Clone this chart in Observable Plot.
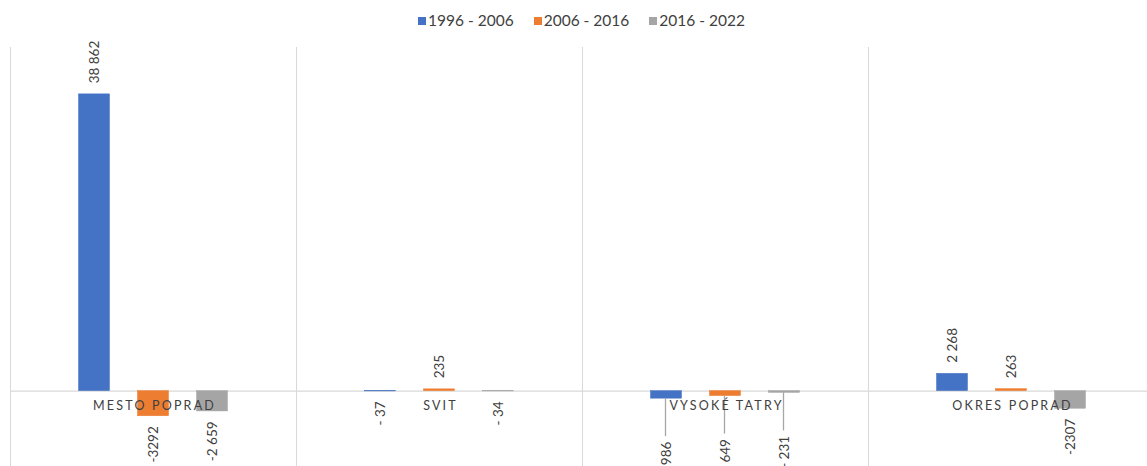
<!DOCTYPE html>
<html>
<head>
<meta charset="utf-8">
<script src="https://cdn.jsdelivr.net/npm/d3@7"></script>
<script src="https://cdn.jsdelivr.net/npm/@observablehq/plot@0.6"></script>
<style>
  html, body { margin: 0; padding: 0; background: #fff; overflow: hidden; width: 1147px; height: 466px; }
  #legend { height: 40px; display: flex; justify-content: center; align-items: center; font-family: Lato, "Open Sans", sans-serif; font-size: 15.5px; color: #404040; padding-left: 16px; box-sizing: border-box; }
  #legend .item { display: flex; align-items: center; margin: 0 10px; }
  #legend .sw { width: 8px; height: 8px; margin-right: 2px; margin-top: 1px; }
  #chart svg { display: block; max-width: none !important; }
</style>
</head>
<body>
<div id="legend"></div>
<div id="chart"></div>
<script>
const categories = ["MESTO POPRAD", "SVIT", "VYSOKÉ TATRY", "OKRES POPRAD"];
const series = ["1996 - 2006", "2006 - 2016", "2016 - 2022"];
const values1 = [38862, -37, -986, 2268];
const values2 = [-3292, 235, -649, 263];
const values3 = [-2659, -34, -231, -2307];
const labels1 = ["38 862", "- 37", "- 986", "2 268"];
const labels2 = ["-3292", "235", "- 649", "263"];
const labels3 = ["-2 659", "- 34", "- 231", "-2307"];
const colors = ["#4472C4", "#ED7D31", "#A5A5A5"];
const leaderCategory = "VYSOKÉ TATRY";

const allValues = [values1, values2, values3];
const allLabels = [labels1, labels2, labels3];
const rows = [];
series.forEach((s, si) => categories.forEach((c, ci) => {
  rows.push({category: c, series: s, si, value: allValues[si][ci], label: allLabels[si][ci]});
}));

// legend
const legend = document.getElementById("legend");
series.forEach((s, i) => {
  const it = document.createElement("div");
  it.className = "item";
  it.innerHTML = `<span class="sw" style="background:${colors[i]}"></span><span>${s}</span>`;
  legend.appendChild(it);
});

const width = 1154, marginLeft = 10, marginRight = 0;
const band = (width - marginLeft - marginRight) / categories.length;
const barW = 31, step = 59;
const inset = (band - barW) / 2;
const textStyle = {fontSize: 13.5, fill: "#404040", rotate: -90, lineAnchor: "middle", fontFamily: "Lato, 'Open Sans', sans-serif"};

const marks = [
  Plot.ruleX(categories, {x: d => d, dx: -band / 2, stroke: "#d9d9d9", strokeWidth: 1}),
  Plot.ruleY([0], {stroke: "#d9d9d9", strokeWidth: 1.2}),
];

series.forEach((s, si) => {
  const off = (si - 1) * step;
  const data = rows.filter(d => d.si === si);
  const normal = data.filter(d => d.category !== leaderCategory);
  const moved = data.filter(d => d.category === leaderCategory);
  marks.push(
    Plot.barY(data, {x: "category", y: "value", fill: "series", stroke: "series", strokeWidth: 0.5,
      insetLeft: inset + off, insetRight: inset - off}),
    Plot.text(normal.filter(d => d.value >= 0), {x: "category", y: "value", text: "label", dx: off, dy: -11, textAnchor: "start", ...textStyle}),
    Plot.text(normal.filter(d => d.value < 0), {x: "category", y: "value", text: "label", dx: off, dy: 10, textAnchor: "end", ...textStyle}),
    Plot.ruleX(moved, {x: "category", y1: "value", y2: "value", dx: off - 1, insetBottom: -38, stroke: "#a6a6a6", strokeWidth: 1.3}),
    Plot.text(moved, {x: "category", y: "value", text: "label", dx: off, dy: 43, textAnchor: "end", ...textStyle})
  );
});

marks.push(
  Plot.text(categories, {x: d => d, y: () => 0, text: d => d, dy: 15, fontSize: 12.5, fill: "#404040",
    fontFamily: "Lato, 'Open Sans', sans-serif", textAnchor: "middle"})
);

const chart = Plot.plot({
  width,
  height: 430,
  marginLeft, marginRight,
  marginTop: 7,
  marginBottom: 3,
  x: {domain: categories, padding: 0, axis: null},
  y: {domain: [-10000, 45000], axis: null},
  color: {domain: series, range: colors},
  style: {background: "#fff", overflow: "visible", maxWidth: "none"},
  marks
});
chart.querySelectorAll("text").forEach(t => {
  if (categories.includes(t.textContent)) {
    t.setAttribute("letter-spacing", "2.2px");
    t.setAttribute("dx", "1");
  }
});
document.getElementById("chart").appendChild(chart);
</script>
</body>
</html>
